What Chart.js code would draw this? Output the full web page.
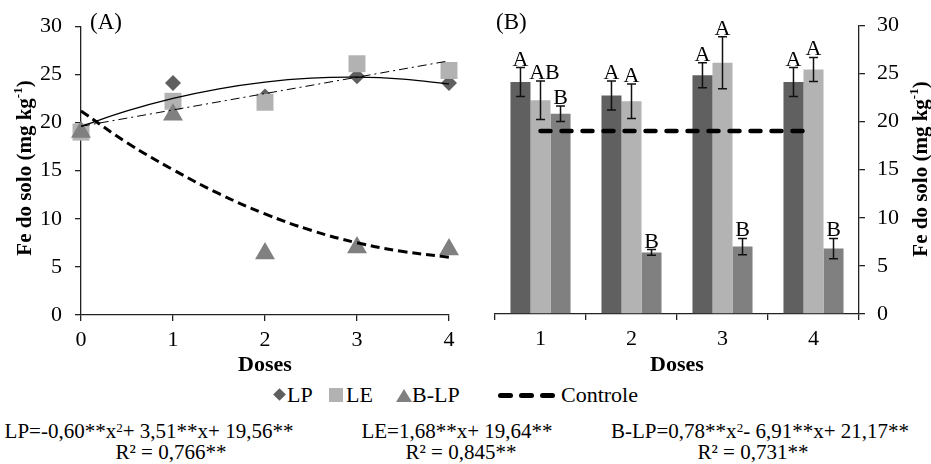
<!DOCTYPE html>
<html>
<head>
<meta charset="utf-8">
<script src="https://cdn.jsdelivr.net/npm/chart.js@4.4.1/dist/chart.umd.min.js"></script>
<style>
  body { margin: 0; background: #fff; font-family: "Liberation Serif", "Times New Roman", serif; color: #000; }
  #page { position: relative; width: 931px; height: 464px; overflow: hidden; }
  .box { position: absolute; top: 0; height: 380px; }
  .t { position: absolute; white-space: nowrap; line-height: 1; font-size: 21px; font-family: "Liberation Serif", serif; }
  .c { text-align: center; }
  .sup { font-size: 0.62em; position: relative; top: -0.45em; }
</style>
</head>
<body>
<div id="page">
  <div class="box" style="left:0;width:470px"><canvas id="chartA" width="470" height="380"></canvas></div>
  <div class="box" style="left:470px;width:461px"><canvas id="chartB" width="461" height="380"></canvas></div>

  <!-- legend -->
  <div style="position:absolute;left:275px;top:390px;width:9px;height:9px;background:#5f5f5f;transform:rotate(45deg)"></div>
  <div class="t" style="left:287px;top:384px;font-size:22px">LP</div>
  <div style="position:absolute;left:329px;top:388px;width:14px;height:14px;background:#b2b2b2"></div>
  <div class="t" style="left:346px;top:384px;font-size:22px">LE</div>
  <div style="position:absolute;left:396px;top:389px;width:0;height:0;border-left:8px solid transparent;border-right:8px solid transparent;border-bottom:13px solid #808080"></div>
  <div class="t" style="left:412px;top:384px;font-size:22px">B-LP</div>
  <div style="position:absolute;left:498px;top:393px;width:15px;height:5px;border-radius:2.5px;background:#000"></div>
  <div style="position:absolute;left:519px;top:393px;width:15px;height:5px;border-radius:2.5px;background:#000"></div>
  <div style="position:absolute;left:540px;top:393px;width:15px;height:5px;border-radius:2.5px;background:#000"></div>
  <div class="t" style="left:561px;top:384px;font-size:22px">Controle</div>

  <!-- regression equations -->
  <div class="t c" style="left:0px;width:298px;top:421px">LP=-0,60**x<span class="sup">2</span>+ 3,51**x+ 19,56**</div>
  <div class="t c" style="left:21px;width:300px;top:442px">R² = 0,766**</div>
  <div class="t c" style="left:307px;width:300px;top:421px">LE=1,68**x+ 19,64**</div>
  <div class="t c" style="left:311px;width:300px;top:442px">R² = 0,845**</div>
  <div class="t c" style="left:610px;width:300px;top:421px">B-LP=0,78**x<span class="sup">2</span>- 6,91**x+ 21,17**</div>
  <div class="t c" style="left:603px;width:300px;top:442px">R² = 0,731**</div>
</div>

<script>
// Fe do solo (mg kg-1) per dose; dose 0 is the control
const doses = [0, 1, 2, 3, 4];
const lpValues = [19.0, 24.1, 22.7, 24.8, 24.1];
const leValues = [19.0, 22.2, 22.1, 26.1, 25.4];
const blpValues = [19.0, 20.8, 6.4, 7.0, 6.8];

// error bars (panel B)
const lpErr = [1.5, 1.5, 1.3, 1.5];
const leErr = [2.0, 1.8, 2.7, 1.25];
const blpErr = [0.8, 0.3, 0.85, 1.05];

// letters above the bars
const lpLetters = ['A', 'A', 'A', 'A'];
const leLetters = ['AB', 'A', 'A', 'A'];
const blpLetters = ['B', 'B', 'B', 'B'];

// fitted curves
const fitX = [0, 0.5, 1, 1.5, 2, 2.5, 3, 3.5, 4];
const lpFit = [19.6, 21.2, 22.5, 23.5, 24.2, 24.6, 24.7, 24.5, 24.0];
const leFitX = [0, 4];
const leFit = [19.6, 26.4];
const blpFit = [21.2, 17.9, 15.1, 12.6, 10.5, 8.8, 7.5, 6.6, 6.0];

const barLabels = ['1', '2', '3', '4'];
const controle = [19, 19, 19, 19];
const yTicks = [0, 5, 10, 15, 20, 25, 30];

const serif = '"Liberation Serif", "Times New Roman", serif';
const axisColor = '#222';

function xy(xs, ys) {
  return xs.map((x, i) => ({ x: x, y: ys[i] }));
}

// rotated axis title with the superscript
function drawYTitle(ctx, cx, cy) {
  const size = 21;
  const main = 'Fe do solo (mg kg';
  const sup = '-1';
  const end = ')';
  ctx.save();
  ctx.translate(cx, cy);
  ctx.rotate(-Math.PI / 2);
  ctx.fillStyle = '#000';
  ctx.textBaseline = 'middle';
  ctx.textAlign = 'left';
  ctx.font = 'bold ' + size + 'px ' + serif;
  const w1 = ctx.measureText(main).width;
  const w3 = ctx.measureText(end).width;
  ctx.font = 'bold ' + Math.round(size * 0.62) + 'px ' + serif;
  const w2 = ctx.measureText(sup).width;
  let x = -(w1 + w2 + w3) / 2;
  ctx.font = 'bold ' + size + 'px ' + serif;
  ctx.fillText(main, x, 0);
  x += w1;
  ctx.font = 'bold ' + Math.round(size * 0.62) + 'px ' + serif;
  ctx.fillText(sup, x, -size * 0.35);
  x += w2;
  ctx.font = 'bold ' + size + 'px ' + serif;
  ctx.fillText(end, x, 0);
  ctx.restore();
}

const annot = {
  id: 'annot',
  afterDraw(chart, args, opts) {
    const ctx = chart.ctx;
    ctx.save();
    ctx.font = '23px ' + serif;
    ctx.fillStyle = '#000';
    ctx.textBaseline = 'middle';
    ctx.textAlign = 'left';
    ctx.fillText(opts.panel, opts.px, opts.py);
    ctx.restore();
    drawYTitle(ctx, opts.tx, opts.ty);
  }
};

const errorBars = {
  id: 'errorBars',
  afterDatasetsDraw(chart) {
    const ctx = chart.ctx;
    const y = chart.scales.y;
    const errs = [lpErr, leErr, blpErr];
    const letters = [lpLetters, leLetters, blpLetters];
    ctx.save();
    for (let i = 0; i < 3; i++) {
      const meta = chart.getDatasetMeta(i);
      const vals = chart.data.datasets[i].data;
      meta.data.forEach((bar, j) => {
        const top = y.getPixelForValue(vals[j] + errs[i][j]);
        const bot = y.getPixelForValue(vals[j] - errs[i][j]);
        ctx.strokeStyle = '#111';
        ctx.lineWidth = 1.5;
        ctx.beginPath();
        ctx.moveTo(bar.x, top);
        ctx.lineTo(bar.x, bot);
        ctx.moveTo(bar.x - 4.5, top);
        ctx.lineTo(bar.x + 4.5, top);
        ctx.moveTo(bar.x - 4.5, bot);
        ctx.lineTo(bar.x + 4.5, bot);
        ctx.stroke();
        ctx.font = '22px ' + serif;
        ctx.fillStyle = '#000';
        ctx.textAlign = 'center';
        ctx.textBaseline = 'alphabetic';
        ctx.fillText(letters[i][j], bar.x + (letters[i][j].length > 1 ? 4 : 0), top - 2);
      });
    }
    ctx.restore();
  }
};

const tickFont = { family: serif, size: 22 };
const titleFont = { family: serif, size: 22, weight: 'bold' };

function axisCommon() {
  return {
    grid: { drawOnChartArea: false, drawTicks: true, tickLength: 6, color: axisColor, lineWidth: 1.3 },
    border: { display: true, color: axisColor, width: 1.3 },
  };
}

// Panel A: points and fitted curves
new Chart(document.getElementById('chartA'), {
  type: 'scatter',
  data: {
    datasets: [
      { data: xy(fitX, lpFit), showLine: true, borderColor: '#000', borderWidth: 1.3, pointRadius: 0, tension: 0.4, clip: false },
      { data: xy(leFitX, leFit), showLine: true, borderColor: '#000', borderWidth: 1, borderDash: [9, 4, 2, 4], pointRadius: 0, clip: false },
      { data: xy(fitX, blpFit), showLine: true, borderColor: '#000', borderWidth: 3, borderDash: [9, 5], pointRadius: 0, tension: 0.4, clip: false },
      { data: xy(doses, blpValues), pointStyle: 'triangle', pointRadius: 11.5, backgroundColor: '#808080', borderColor: '#808080', borderWidth: 0, clip: false },
      { data: xy(doses, leValues), pointStyle: 'rect', pointRadius: 12, backgroundColor: '#b2b2b2', borderColor: '#b2b2b2', borderWidth: 0, clip: false },
      { data: xy(doses, lpValues), pointStyle: 'rectRot', pointRadius: 8, backgroundColor: '#5f5f5f', borderColor: '#5f5f5f', borderWidth: 0, clip: false },
    ]
  },
  options: {
    responsive: false,
    animation: false,
    layout: { padding: { left: 0, top: 20, right: 21, bottom: 0 } },
    plugins: {
      legend: { display: false },
      tooltip: { enabled: false },
      annot: { panel: '(A)', px: 90, py: 23, tx: 26, ty: 168 }
    },
    scales: {
      x: Object.assign(axisCommon(), {
        type: 'linear', min: 0, max: 4,
        ticks: { stepSize: 1, font: tickFont, color: '#000', padding: 6 },
        title: { display: true, text: 'Doses', font: titleFont, color: '#000', padding: { top: 0, bottom: 1 } },
        afterFit(s) { s.height = 65; }
      }),
      y: Object.assign(axisCommon(), {
        min: 0, max: 30,
        afterBuildTicks(s) { s.ticks = yTicks.map(v => ({ value: v })); },
        ticks: { font: tickFont, color: '#000', padding: 13 },
        afterFit(s) { s.width = 81; }
      })
    }
  },
  plugins: [annot]
});

// Panel B: bars with error bars and the control line
new Chart(document.getElementById('chartB'), {
  type: 'bar',
  data: {
    labels: barLabels,
    datasets: [
      { label: 'LP', data: lpValues.slice(1), backgroundColor: '#606060', order: 1 },
      { label: 'LE', data: leValues.slice(1), backgroundColor: '#b3b3b3', order: 1 },
      { label: 'B-LP', data: blpValues.slice(1), backgroundColor: '#808080', order: 1 },
      { label: 'Controle', type: 'line', data: controle, borderColor: '#000', borderWidth: 4.5, borderDash: [10, 11], borderCapStyle: 'round', pointRadius: 0, order: 0 }
    ]
  },
  options: {
    responsive: false,
    animation: false,
    categoryPercentage: 0.66,
    barPercentage: 1.0,
    layout: { padding: { left: 25, top: 24, right: 0, bottom: 0 } },
    plugins: {
      legend: { display: false },
      tooltip: { enabled: false },
      annot: { panel: '(B)', px: 26, py: 23, tx: 452, ty: 169 }
    },
    scales: {
      x: Object.assign(axisCommon(), {
        grid: { offset: true, drawOnChartArea: false, drawTicks: true, tickLength: 6, color: axisColor, lineWidth: 1.3 },
        ticks: { font: tickFont, color: '#000', padding: 6 },
        title: { display: true, text: 'Doses', font: titleFont, color: '#000', padding: { top: 0, bottom: 1 } },
        afterFit(s) { s.height = 66; }
      }),
      y: Object.assign(axisCommon(), {
        position: 'right', min: 0, max: 30,
        afterBuildTicks(s) { s.ticks = yTicks.map(v => ({ value: v })); },
        ticks: { font: tickFont, color: '#000', padding: 12 },
        afterFit(s) { s.width = 72; }
      })
    }
  },
  plugins: [annot, errorBars]
});
</script>
</body>
</html>
